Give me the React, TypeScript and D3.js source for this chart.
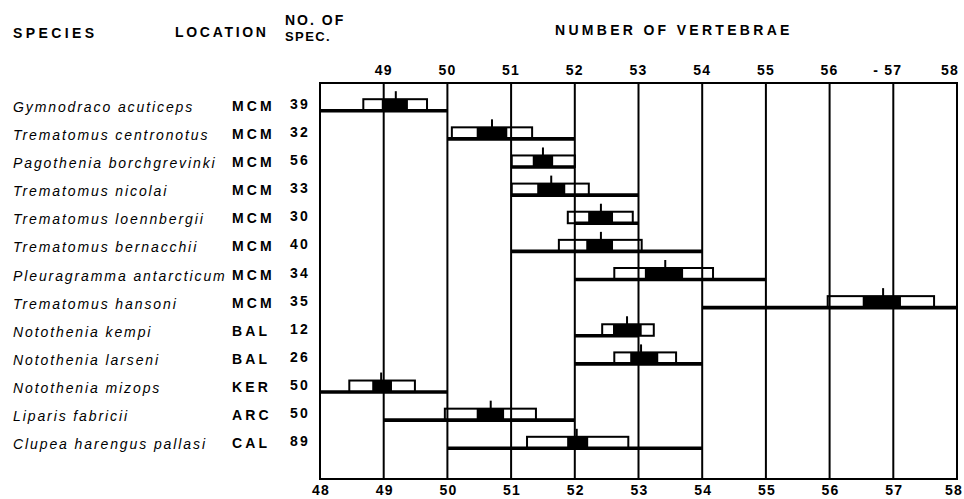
import React from "react";
import * as d3 from "d3";

const species = [
  "Gymnodraco acuticeps",
  "Trematomus centronotus",
  "Pagothenia borchgrevinki",
  "Trematomus nicolai",
  "Trematomus loennbergii",
  "Trematomus bernacchii",
  "Pleuragramma antarcticum",
  "Trematomus hansoni",
  "Notothenia kempi",
  "Notothenia larseni",
  "Notothenia mizops",
  "Liparis fabricii",
  "Clupea harengus pallasi",
];
const locations = ["MCM", "MCM", "MCM", "MCM", "MCM", "MCM", "MCM", "MCM", "BAL", "BAL", "KER", "ARC", "CAL"];
const counts = [39, 32, 56, 33, 30, 40, 34, 35, 12, 26, 50, 50, 89];
const rangeMin = [48, 50, 51, 51, 52, 51, 52, 54, 52, 52, 48, 49, 50];
const rangeMax = [50, 52, 52, 53, 53, 54, 55, 58, 53, 54, 50, 52, 54];
const sdLow = [48.68, 50.07, 51.01, 51.01, 51.89, 51.75, 52.62, 55.97, 52.43, 52.62, 48.46, 49.96, 51.25];
const sdHigh = [49.68, 51.33, 52.0, 52.22, 52.91, 53.05, 54.17, 57.64, 53.24, 53.59, 49.49, 51.39, 52.84];
const ciLow = [48.97, 50.46, 51.34, 51.41, 52.21, 52.18, 53.1, 56.52, 52.6, 52.87, 48.82, 50.46, 51.88];
const ciHigh = [49.38, 50.94, 51.66, 51.85, 52.6, 52.6, 53.7, 57.12, 53.05, 53.31, 49.13, 50.89, 52.21];
const means = [49.19, 50.7, 51.5, 51.63, 52.41, 52.41, 53.42, 56.84, 52.82, 53.04, 48.96, 50.68, 52.03];

const gridValues = [48, 49, 50, 51, 52, 53, 54, 55, 56, 57, 58];
const topTickValues = [49, 50, 51, 52, 53, 54, 55, 56, 57, 58];
const topTickLabels = ["49", "50", "51", "52", "53", "54", "55", "56", "- 57", "58"];
const bottomTickLabels = ["48", "49", "50", "51", "52", "53", "54", "55", "56", "57", "58"];

const FONT = "'Liberation Sans', Arial, Helvetica, sans-serif";

export default function App() {
  const x = d3.scaleLinear().domain([48, 58]).range([320, 957]);
  const y = d3.scaleLinear().domain([0, species.length - 1]).range([110.7, 448.3]);
  const top = 83;
  const bottom = 479;
  const boxH = 11.5;
  const tickH = 8;

  const bold = { fontFamily: FONT, fontWeight: 700, fontSize: 14, fill: "#000" } as const;

  return (
    <svg
      width={964}
      height={499}
      style={{ position: "absolute", left: 0, top: 0, background: "#fff" }}
    >
      <rect x={0} y={0} width={964} height={499} fill="#fff" />
      {/* headers */}
      <text x={13} y={38} {...bold} letterSpacing={3.4}>SPECIES</text>
      <text x={175} y={37} {...bold} letterSpacing={2.7}>LOCATION</text>
      <text x={285} y={25} {...bold} letterSpacing={2.0}>NO. OF</text>
      <text x={285} y={41} {...bold} fontSize={13} letterSpacing={1.4}>SPEC.</text>
      <text x={555} y={35} {...bold} letterSpacing={3.3}>NUMBER OF VERTEBRAE</text>

      {/* top tick labels */}
      {topTickValues.map((v, i) => (
        <text key={"tt" + i} x={Math.min(x(v) + 9, 959)} y={75} textAnchor="end" {...bold} letterSpacing={1.2}>
          {topTickLabels[i]}
        </text>
      ))}
      {/* bottom tick labels */}
      {gridValues.map((v, i) => (
        <text key={"bt" + i} x={Math.min(x(v) - 8, 945)} y={495} {...bold} letterSpacing={1.2}>
          {bottomTickLabels[i]}
        </text>
      ))}

      {/* grid */}
      {gridValues.map((v) => (
        <line key={"g" + v} x1={x(v)} x2={x(v)} y1={top} y2={bottom} stroke="#000" strokeWidth={2} />
      ))}
      <line x1={x(48) - 1} x2={x(58) + 1} y1={top} y2={top} stroke="#000" strokeWidth={2} />
      <line x1={x(48) - 1} x2={x(58) + 1} y1={bottom} y2={bottom} stroke="#000" strokeWidth={2.2} />

      {species.map((s, i) => {
        const ly = y(i);
        return (
          <g key={"r" + i}>
            <text x={13} y={ly + 1} fontFamily={FONT} fontStyle="italic" fontSize={14} letterSpacing={1.9} fill="#000">
              {s}
            </text>
            <text x={232} y={ly} {...bold} letterSpacing={3.1}>{locations[i]}</text>
            <text x={290} y={ly - 2} {...bold} letterSpacing={2.2}>{counts[i]}</text>
            <line x1={x(rangeMin[i])} x2={x(rangeMax[i])} y1={ly} y2={ly} stroke="#000" strokeWidth={3.6} />
            <rect
              x={x(sdLow[i])}
              y={ly - boxH}
              width={x(sdHigh[i]) - x(sdLow[i])}
              height={boxH}
              fill="none"
              stroke="#000"
              strokeWidth={2}
            />
            <rect
              x={x(ciLow[i])}
              y={ly - boxH}
              width={x(ciHigh[i]) - x(ciLow[i])}
              height={boxH}
              fill="#000"
            />
            <line x1={x(means[i])} x2={x(means[i])} y1={ly - boxH} y2={ly - boxH - tickH} stroke="#000" strokeWidth={2} />
          </g>
        );
      })}
    </svg>
  );
}
